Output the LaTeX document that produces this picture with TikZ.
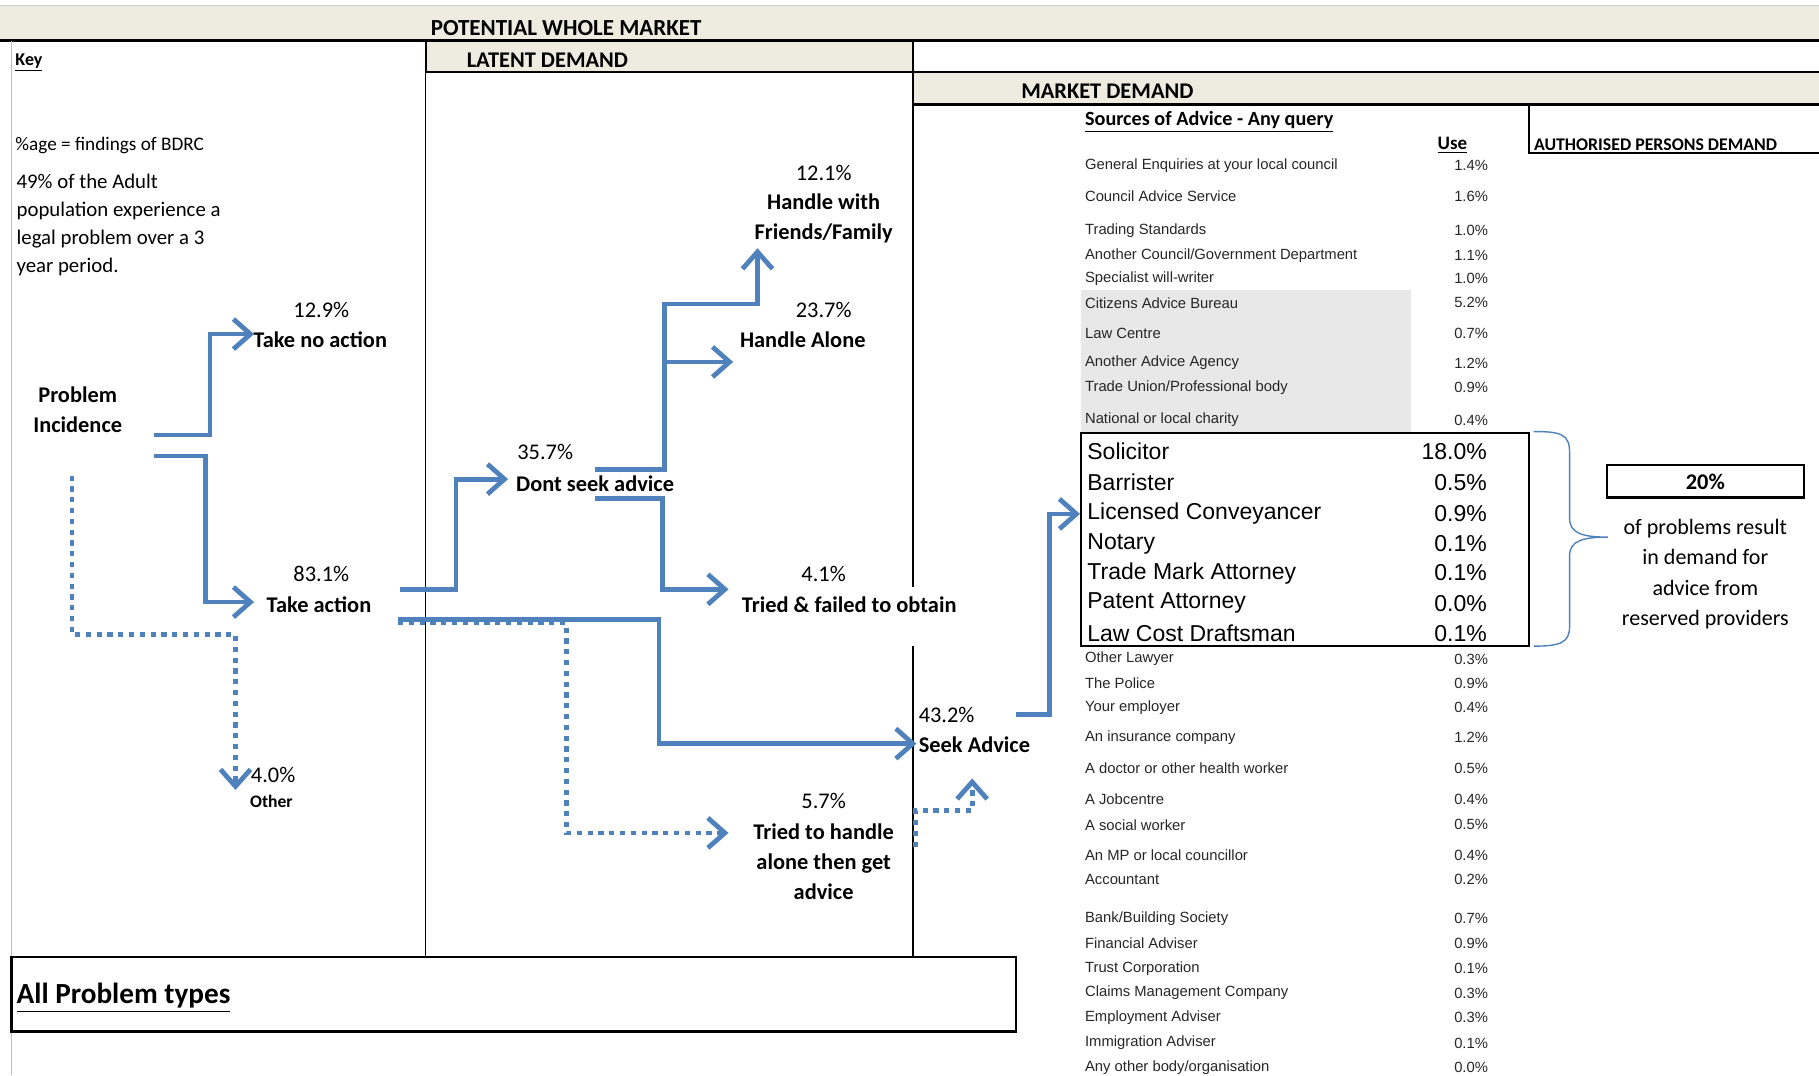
\documentclass[tikz,border=0pt]{standalone}
\usepackage{fontspec}
\setmainfont{Carlito}
\newfontfamily\ari{Liberation Sans}
\usetikzlibrary{arrows.meta}
\definecolor{beige}{HTML}{EEECE1}
\definecolor{flowblue}{HTML}{4F81BD}
\definecolor{shadegray}{HTML}{E8E8E8}
\newcommand\srow[4]{\node[srcl] (#1l) at (935,#2) {#3}; \node[srcv] (#1v) at (1283,#2) {#4};}
\newcommand\brow[4]{\node[big,anchor=west] (#1l) at (937,#2) {#3}; \node[big,anchor=east] (#1v) at (1282,#2) {#4};}
\begin{document}
\begin{tikzpicture}[x=0.58pt,y=-0.58pt,
 lbl/.style={font=\bfseries\fontsize{11.2}{15}\selectfont, inner sep=0pt, align=center},
 pct/.style={font=\fontsize{11.2}{15}\selectfont, inner sep=0pt},
 hdr/.style={font=\bfseries\fontsize{11.2}{13}\selectfont, inner sep=0pt, anchor=west},
 src/.style={font=\ari\fontsize{7.4}{9}\selectfont, inner sep=0pt, text=black!85},
 srcl/.style={src, anchor=west},
 srcv/.style={src, anchor=east},
 big/.style={font=\ari\fontsize{11.5}{13}\selectfont, inner sep=0pt},
 flow/.style={draw=flowblue, line width=2.4pt, -{Straight Barb[length=8.5pt,width=15pt]}},
 dotflow/.style={flow, dash pattern=on 2.6pt off 2.8pt},
 boxline/.style={draw=black, line width=1.2pt},
 thinline/.style={draw=black, line width=0.6pt},
]
\useasboundingbox (0,0) rectangle (1568,927);
% header bands
\fill[beige] (0,5) rectangle (1568,35);
\draw[gray!40, line width=0.6pt] (0,5) -- (1568,5);
\draw[boxline] (0,35) -- (1570,35);
\filldraw[fill=beige, boxline] (367,35) rectangle (787,62);
\draw[boxline] (787,35) -- (787,62) -- (1570,62);
\filldraw[fill=beige, boxline] (787,62) rectangle (1572,90);
\draw[boxline] (1318,90) -- (1318,132) -- (1572,132);
\draw[gray!50, line width=0.6pt] (10,35) -- (10,927);
\draw[thinline] (367,62) -- (367,825);
\draw[thinline] (787,90) -- (787,506) (787,557) -- (787,825);
\draw[boxline] (10,825) rectangle (876,889);
% shaded rows
\fill[shadegray] (932,250) rectangle (1216,372);

% headers
\node[font=\bfseries\fontsize{11.5}{13}\selectfont, inner sep=0pt] (pwm) at (488,24) {POTENTIAL WHOLE MARKET};
\node[hdr] (latent) at (402,52) {LATENT DEMAND};
\node[hdr] (market) at (880,79) {MARKET DEMAND};
\node[hdr, font=\bfseries\fontsize{9}{11}\selectfont] (key) at (13,54) {\underline{Key}};
\node[hdr, font=\bfseries\fontsize{8.9}{11}\selectfont] (auth) at (1322,125) {AUTHORISED PERSONS DEMAND};
\node[hdr, font=\bfseries\fontsize{10.1}{11}\selectfont] (sources) at (935,105) {\underline{Sources of Advice - Any query}};
\node[font=\bfseries\fontsize{9.5}{11}\selectfont, inner sep=0pt] (use) at (1252,125) {\underline{Use}};
\node[font=\fontsize{9.6}{11}\selectfont, inner sep=0pt, anchor=west] (agekey) at (13,125) {\%age = findings of BDRC};
\node[font=\fontsize{10.4}{14}\selectfont, inner sep=0pt, anchor=west, align=left] (adult) at (14,194) {49\% of the Adult\\population experience a\\legal problem over a 3\\year period.};
\node[hdr, font=\bfseries\fontsize{14.6}{16}\selectfont] (allp) at (14,860) {\underline{All Problem types}};

% flow labels
\node[pct] (p129) at (277,267) {12.9\%};
\node[lbl] (noaction) at (276,293) {Take no action};
\node[lbl] (incid) at (67,353) {Problem\\Incidence};
\node[pct] (p831) at (277,495) {83.1\%};
\node[lbl] (action) at (275,521) {Take action};
\node[pct, anchor=west] (p40) at (216,668) {4.0\%};
\node[lbl, font=\bfseries\fontsize{8.8}{11}\selectfont] (other) at (234,691) {Other};
\node[pct] (p357) at (470,390) {35.7\%};
\node[lbl] (dont) at (513,417) {Dont seek advice};
\node[pct] (p121) at (710,149) {12.1\%};
\node[lbl] (friends) at (710,188) {Handle with\\Friends/Family};
\node[pct] (p237) at (710,267) {23.7\%};
\node[lbl] (alone) at (692,293) {Handle Alone};
\node[pct] (p41) at (710,495) {4.1\%};
\node[lbl] (failed) at (732,521) {Tried \& failed to obtain};
\node[pct] (p432) at (816,616) {43.2\%};
\node[lbl] (seek) at (840,642) {Seek Advice};
\node[pct] (p57) at (710,690) {5.7\%};
\node[lbl] (tried) at (710,743) {Tried to handle\\alone then get\\advice};

% sources table
\srow{r1}{143}{General Enquiries at your local council}{1.4\%}
\srow{r2}{169}{Council Advice Service}{1.6\%}
\srow{r3}{199}{Trading Standards}{1.0\%}
\srow{r4}{220}{Another Council/Government Department}{1.1\%}
\srow{r5}{240}{Specialist will-writer}{1.0\%}
\srow{r6}{261}{Citizens Advice Bureau}{5.2\%}
\srow{r7}{287}{Law Centre}{0.7\%}
\srow{r8}{313}{Another Advice Agency}{1.2\%}
\srow{r9}{334}{Trade Union/Professional body}{0.9\%}
\srow{r10}{362}{National or local charity}{0.4\%}
\brow{b1}{389}{Solicitor}{18.0\%}
\brow{b2}{416}{Barrister}{0.5\%}
\brow{b3}{443}{Licensed Conveyancer}{0.9\%}
\brow{b4}{469}{Notary}{0.1\%}
\brow{b5}{494}{Trade Mark Attorney}{0.1\%}
\brow{b6}{520}{Patent Attorney}{0.0\%}
\brow{b7}{546}{Law Cost Draftsman}{0.1\%}
\draw[boxline] (932,373) rectangle (1318,557);
\srow{s1}{568}{Other Lawyer}{0.3\%}
\srow{s2}{589}{The Police}{0.9\%}
\srow{s3}{610}{Your employer}{0.4\%}
\srow{s4}{636}{An insurance company}{1.2\%}
\srow{s5}{662}{A doctor or other health worker}{0.5\%}
\srow{s6}{689}{A Jobcentre}{0.4\%}
\srow{s7}{711}{A social worker}{0.5\%}
\srow{s8}{737}{An MP or local councillor}{0.4\%}
\srow{s9}{758}{Accountant}{0.2\%}
\srow{s10}{792}{Bank/Building Society}{0.7\%}
\srow{s11}{813}{Financial Adviser}{0.9\%}
\srow{s12}{835}{Trust Corporation}{0.1\%}
\srow{s13}{856}{Claims Management Company}{0.3\%}
\srow{s14}{877}{Employment Adviser}{0.3\%}
\srow{s15}{899}{Immigration Adviser}{0.1\%}
\srow{s16}{920}{Any other body/organisation}{0.0\%}

% right summary
\node[draw=black, line width=1.2pt, minimum width=170*0.58pt, minimum height=28*0.58pt, inner sep=0pt, font=\bfseries\fontsize{11.2}{13}\selectfont] (twenty) at (1470,415) {20\%};
\node[font=\fontsize{11}{15.2}\selectfont, inner sep=0pt, align=center] (reserved) at (1470,495) {of problems result\\in demand for\\advice from\\reserved providers};
\draw[flowblue, line width=0.7pt] (1322,372) .. controls (1345,372) and (1353,374) .. (1353,390) -- (1353,447) .. controls (1353,460) and (1365,463) .. (1386,463) .. controls (1365,463) and (1353,466) .. (1353,479) -- (1353,540) .. controls (1353,554) and (1345,557) .. (1322,557);

% flow connectors
\coordinate (pi1) at (133,375);
\coordinate (pi2) at (133,393);
\coordinate (pi3) at (62,410);
\coordinate (noT) at (219,288);
\coordinate (acT) at (219,519);
\coordinate (otT) at (203,681);
\coordinate (ta1) at (345,508);
\coordinate (ta2) at (343,534);
\coordinate (ta3) at (343,537);
\coordinate (dsT) at (438,413);
\coordinate (saT) at (790,641);
\coordinate (trT) at (628,718);
\coordinate (ds1) at (513,405);
\coordinate (ds2) at (513,430);
\coordinate (ffT) at (653,214);
\coordinate (brA) at (573,312);
\coordinate (haT) at (632,312);
\coordinate (tfT) at (628,508);
\coordinate (sa1) at (876,616);
\coordinate (bxT) at (931,443);
\coordinate (tr1) at (789,730);
\coordinate (saT2) at (838,671);

\draw[flow] (pi1) -- ++(48,0) |- (noT);
\draw[flow] (pi2) -- ++(44,0) |- (acT);
\draw[dotflow] (pi3) |- (203,547) -- (otT);
\draw[flow] (ta1) -- ++(48,0) |- (dsT);
\draw[dotflow] (ta3) -- ++(145,0) |- (trT);
\draw[flow] (ta2) -- ++(225,0) |- (saT);
\draw[flow] (ds1) -- ++(60,0) |- (653,262) -- (ffT);
\draw[flow] (brA) -- (haT);
\draw[flow] (ds2) -- ++(58,0) |- (tfT);
\draw[flow] (sa1) -- ++(29,0) |- (bxT);
\draw[dotflow] (tr1) |- (838,699) -- (saT2);
\end{tikzpicture}
\end{document}
